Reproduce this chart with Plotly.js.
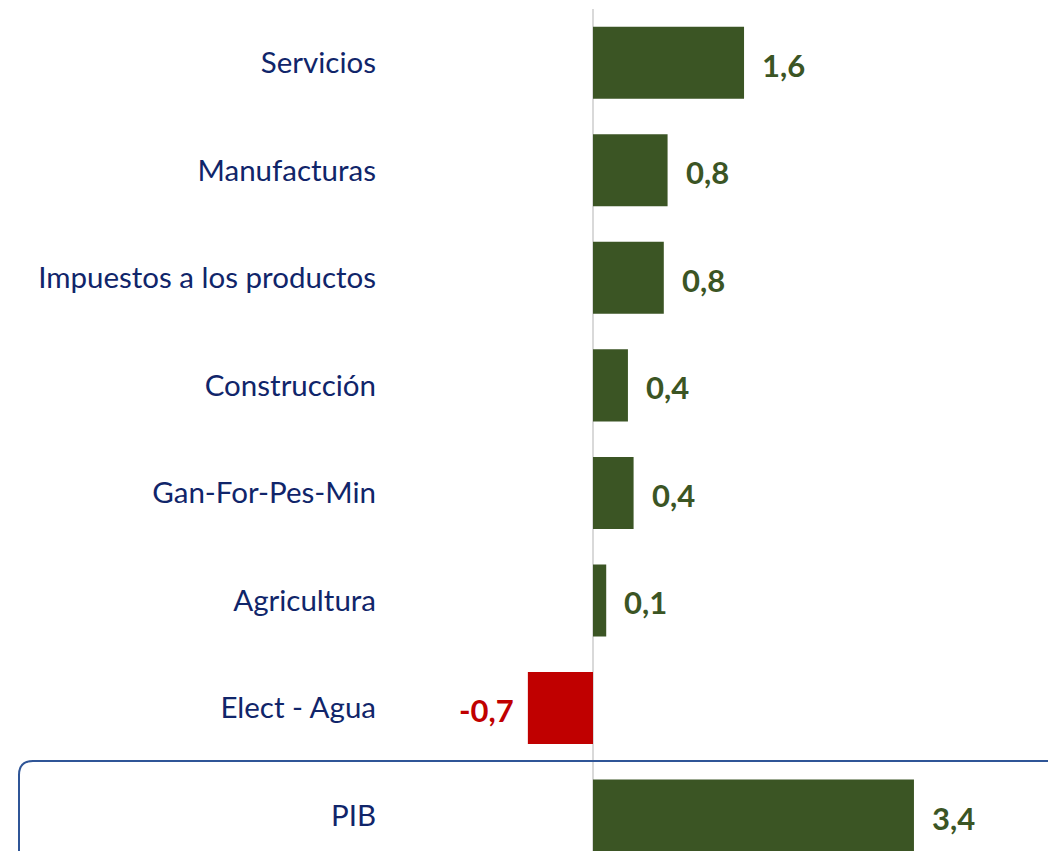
<!DOCTYPE html>
<html><head><meta charset="utf-8">
<script src="https://cdn.plot.ly/plotly-3.0.1.min.js"></script>
<style>html,body{margin:0;padding:0;background:#fff}#c{width:1048px;height:851px}</style>
</head><body><div id="c"></div>
<script>
const categories = ["Servicios","Manufacturas","Impuestos a los productos","Construcción","Gan-For-Pes-Min","Agricultura","Elect - Agua","PIB"];
const values = [1.6, 0.79, 0.75, 0.37, 0.43, 0.14, -0.69, 3.4];
const labels = ["1,6","0,8","0,8","0,4","0,4","0,1","-0,7","3,4"];

const W = 1048, H = 851;
const mL = 383, mR = 0, mT = 9, mB = 0;
const pw = W - mL - mR, ph = H - mT - mB;
const px = x => (x - mL) / pw;
const py = y => 1 - (y - mT) / ph;

const green = "#3b5524", red = "#c00000";
const colors = values.map(v => v < 0 ? red : green);

const trace = {
  type: "bar", orientation: "h",
  y: categories, x: values,
  marker: {color: colors},
  width: 0.67,
  hoverinfo: "skip"
};

const annotations = values.map((v, i) => ({
  x: v, y: categories[i], xref: "x", yref: "y",
  text: labels[i], showarrow: false,
  xanchor: v < 0 ? "right" : "left",
  xshift: v < 0 ? -12 : 16,
  yshift: -2,
  font: {family: "Lato, 'Open Sans', sans-serif", size: 31, color: v < 0 ? red : green, weight: 700}
}));

// rounded box around PIB row
const x0 = px(19), x1 = px(1060), y0 = py(761), y1 = py(870);
const rx = 14 / pw, ry = 14 / ph;
const path = `M ${x0} ${y1} L ${x0} ${y0 - ry} Q ${x0} ${y0} ${x0 + rx} ${y0} L ${x1} ${y0}`;

const layout = {
  width: W, height: H,
  margin: {l: mL, r: mR, t: mT, b: mB, pad: 0},
  paper_bgcolor: "#fff", plot_bgcolor: "#fff",
  separators: ",.",
  showlegend: false,
  xaxis: {range: [-(593 - mL) / 94.4, (W - 593) / 94.4], showgrid: false, zeroline: true,
          zerolinecolor: "#d9d9d9", zerolinewidth: 2, showticklabels: false, ticks: ""},
  yaxis: {type: "category", range: [7.33, -0.5], showgrid: false, zeroline: false,
          ticks: "", ticklabelstandoff: 6,
          tickfont: {family: "Lato, 'Open Sans', sans-serif", size: 29.5, color: "#10256a"}},
  annotations: annotations,
  shapes: [{type: "path", xref: "paper", yref: "paper", path: path,
            line: {color: "#2f5597", width: 2}, layer: "above"}]
};

Plotly.newPlot("c", [trace], layout, {staticPlot: true});
</script>
</body></html>
